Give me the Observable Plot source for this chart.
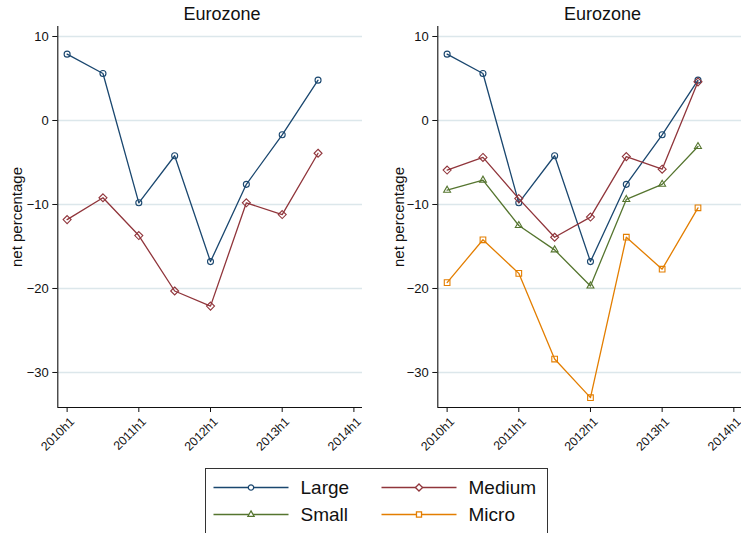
<!DOCTYPE html>
<html>
<head>
<meta charset="utf-8">
<script src="https://cdn.jsdelivr.net/npm/d3@7"></script>
<script src="https://cdn.jsdelivr.net/npm/@observablehq/plot@0.6"></script>
<style>
  html, body { margin: 0; padding: 0; background: #fff; overflow: hidden; width: 741px; height: 533px; }
  body { position: relative; font-family: "Liberation Sans", Arial, sans-serif; color: #111; }
  .panel { position: absolute; top: 0; }
  .title { position: absolute; top: 4px; font-size: 18px; transform: translateX(-50%); white-space: nowrap; }
  #legend { position: absolute; left: 205px; top: 468px; width: 343px; height: 80px; border: 1px solid #333; box-sizing: border-box; }
</style>
</head>
<body>
<div class="title" style="left:222px">Eurozone</div>
<div class="title" style="left:602.5px">Eurozone</div>
<div id="left" class="panel" style="left:0px"></div>
<div id="right" class="panel" style="left:370px"></div>
<div id="legend"></div>
<script>
// ---- data ----
const periods = [2010, 2010.5, 2011, 2011.5, 2012, 2012.5, 2013, 2013.5];
const xTicks = [2010, 2011, 2012, 2013, 2014];
const yTicks = [10, 0, -10, -20, -30];
const large = [7.9, 5.6, -9.8, -4.2, -16.8, -7.6, -1.7, 4.8];
const mediumLeft = [-11.8, -9.2, -13.7, -20.3, -22.1, -9.8, -11.2, -3.9];
const mediumRight = [-5.9, -4.4, -9.3, -13.9, -11.5, -4.3, -5.8, 4.6];
const small = [-8.3, -7.1, -12.5, -15.4, -19.7, -9.4, -7.6, -3.1];
const micro = [-19.3, -14.2, -18.2, -28.4, -33.0, -13.9, -17.7, -10.4];
const seriesNames = ["Large", "Medium", "Small", "Micro"];
const seriesColors = ["#1a476f", "#90353b", "#55752f", "#e37e00"];
const seriesSymbols = ["circle", "diamond2", "triangle2", "square2"];
const seriesR = [3, 3.6, 3.3, 3.6];

const yDomain = [-34.17, 11.19];

function rows(name, values) {
  return values.map((v, i) => ({period: periods[i], value: v, series: name}));
}

function makePanel(seriesList, opts) {
  const marks = [
    Plot.ruleY(yTicks, {stroke: "#dce7eb", strokeWidth: 1.6}),
    Plot.ruleX([opts.xDomain[0]], {stroke: "#111", strokeWidth: 1.1}),
    Plot.ruleY([yDomain[0]], {stroke: "#111", strokeWidth: 1.1}),
    Plot.axisY({ticks: yTicks, tickSize: 5, tickPadding: 4, fontSize: 13, label: null,
      tickFormat: d => d < 0 ? "\u2212" + Math.abs(d) : String(d)}),
    Plot.axisX({ticks: xTicks, tickSize: 5, label: null, tickFormat: () => ""}),
    Plot.text(xTicks, {x: d => d, frameAnchor: "bottom", text: d => d + "h1", rotate: -45,
      textAnchor: "end", lineAnchor: "bottom", dx: 8, dy: 15, fontSize: 12.3, fill: "#111"}),
    Plot.text(["net percentage"], {frameAnchor: "left", rotate: -90, textAnchor: "middle", lineAnchor: "middle",
      dx: opts.labelDx, fontSize: 15, text: d => d, fill: "#111"})
  ];
  for (const s of seriesList) {
    const idx = seriesNames.indexOf(s.name);
    const data = rows(s.name, s.values);
    marks.push(Plot.line(data, {x: "period", y: "value", stroke: seriesColors[idx], strokeWidth: 1.3}));
    marks.push(Plot.dot(data, {x: "period", y: "value", stroke: seriesColors[idx], fill: "none", symbol: seriesSymbols[idx], r: seriesR[idx], strokeWidth: 1.1}));
  }
  return Plot.plot({
    width: opts.width,
    height: 460,
    marginLeft: opts.marginLeft,
    marginRight: opts.marginRight,
    marginTop: 26,
    marginBottom: 53,
    x: {type: "linear", domain: opts.xDomain, axis: null},
    y: {type: "linear", domain: yDomain, axis: null},
    style: {fontFamily: "Liberation Sans, Arial, sans-serif", color: "#111", background: "transparent", overflow: "visible"},
    marks
  });
}

document.getElementById("left").appendChild(makePanel(
  [{name: "Large", values: large}, {name: "Medium", values: mediumLeft}],
  {width: 370, marginLeft: 57.3, marginRight: 8, xDomain: [2009.87, 2014.12], labelDx: -41}
));
document.getElementById("right").appendChild(makePanel(
  [{name: "Large", values: large}, {name: "Medium", values: mediumRight}, {name: "Small", values: small}, {name: "Micro", values: micro}],
  {width: 371, marginLeft: 67.3, marginRight: 0, xDomain: [2009.87, 2014.107], labelDx: -38.5}
));

// ---- legend ----
const legend = d3.select("#legend").append("svg").attr("width", 343).attr("height", 80)
  .style("position", "absolute").style("left", "-1px").style("top", "-1px");
const symMap = {circle: d3.symbolCircle, diamond2: d3.symbolDiamond2, triangle2: d3.symbolTriangle2, square2: d3.symbolSquare2};
seriesNames.forEach((name, i) => {
  const col = i % 2, row = Math.floor(i / 2);
  const x0 = col === 0 ? 8.5 : 176.5;
  const y0 = row === 0 ? 19.5 : 46.5;
  const g = legend.append("g").attr("transform", `translate(${x0},${y0})`);
  g.append("line").attr("x1", 0).attr("x2", 75).attr("y1", 0).attr("y2", 0)
    .attr("stroke", seriesColors[i]).attr("stroke-width", 1.6);
  g.append("path").attr("transform", "translate(37.5,0)")
    .attr("d", d3.symbol(symMap[seriesSymbols[i]], Math.PI * seriesR[i] * seriesR[i] * 0.8)())
    .attr("fill", "white").attr("stroke", seriesColors[i]).attr("stroke-width", 1.3);
  g.append("text").attr("x", 87).attr("y", 0).attr("dy", "0.35em")
    .attr("font-size", 19).attr("font-family", "Liberation Sans, Arial, sans-serif").attr("fill", "#111").text(name);
});
</script>
</body>
</html>
